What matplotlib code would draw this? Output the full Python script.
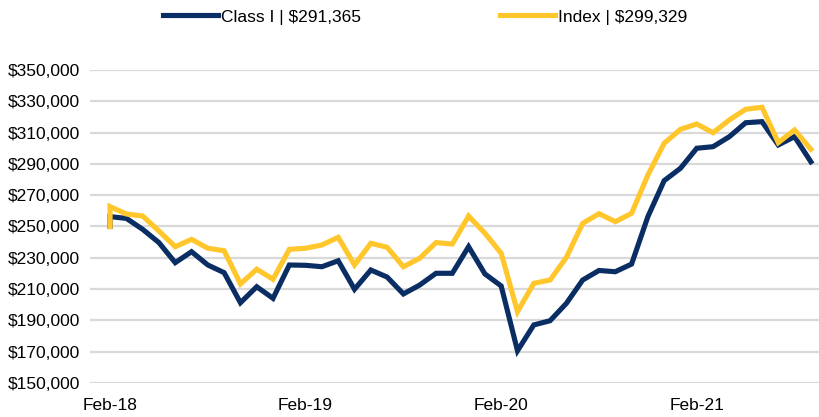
import matplotlib
matplotlib.use("Agg")
import matplotlib.pyplot as plt
import matplotlib.ticker as mticker
import numpy as np
import pandas as pd

plt.rcParams["font.family"] = ["Liberation Sans", "DejaVu Sans"]

# month-end values, Feb-18 .. Sep-21 (both series start from a $250,000 investment)
start_value = 250000
months = pd.date_range("2018-02-01", periods=44, freq="MS")
class_i = [256.3, 255.2, 248.2, 239.7, 226.9, 233.9, 225.4, 220.5, 201.3, 211.5,
           204.1, 225.4, 225.2, 224.3, 228.1, 209.9, 222.2, 217.7, 206.9, 212.6,
           220.1, 220.1, 237.1, 219.7, 212.0, 170.6, 187.1, 189.8, 200.9, 215.8,
           221.9, 221.1, 226.0, 256.3, 279.3, 287.2, 300.0, 301.0, 307.4, 316.3,
           317.0, 302.1, 307.4, 291.365]
index = [262.7, 258.0, 256.7, 247.1, 237.1, 241.8, 236.1, 234.5, 213.3, 222.7,
         216.3, 235.4, 236.1, 238.2, 243.1, 225.4, 239.3, 236.7, 224.3, 229.7,
         239.7, 238.8, 256.7, 245.7, 232.9, 195.6, 213.7, 215.8, 230.3, 252.0,
         258.2, 253.1, 258.4, 282.9, 303.2, 312.1, 315.5, 309.9, 318.1, 324.9,
         326.2, 303.6, 311.7, 299.329]
labels = ["Class I | $291,365", "Index | $299,329"]
tick_months = ["2018-02-01", "2019-02-01", "2020-02-01", "2021-02-01"]

NAVY = "#0A2D63"
GOLD = "#FFC72C"

x = np.arange(len(months))
x_full = np.concatenate([[0], x])
ci_full = np.concatenate([[start_value], np.array(class_i) * 1000])
ix_full = np.concatenate([[start_value], np.array(index) * 1000])

fig = plt.figure(figsize=(8.19, 4.17), dpi=100)
ax = fig.add_axes([90 / 819, 1 - 383 / 417, (819 - 90) / 819, (383 - 70) / 417])

# Index is drawn over Class I, as in the source chart
ax.plot(x_full, ci_full, color=NAVY, lw=3.7, solid_joinstyle="miter", label=labels[0], zorder=2)
ax.plot(x_full, ix_full, color=GOLD, lw=3.7, solid_joinstyle="miter", label=labels[1], zorder=3)

ax.set_ylim(150000, 350000)
ax.set_yticks(np.arange(150000, 350001, 20000))
ax.yaxis.set_major_formatter(mticker.FuncFormatter(lambda v, _: f"${v:,.0f}"))
ax.set_xlim(-1.23, 43.5)
tick_pos = [months.get_loc(pd.Timestamp(t)) for t in tick_months]
ax.set_xticks(tick_pos)
ax.set_xticklabels([pd.Timestamp(t).strftime("%b-%y") for t in tick_months])

ax.grid(axis="y", color="#D9D9D9", lw=1.6, zorder=0)
ax.set_axisbelow(True)
for s in ax.spines.values():
    s.set_visible(False)
ax.tick_params(axis="both", length=0, labelsize=12.5, colors="#000000")
ax.tick_params(axis="y", pad=7)
ax.tick_params(axis="x", pad=11)

handles, labs = ax.get_legend_handles_labels()
fig.legend(handles, labs, loc="center", bbox_to_anchor=(425 / 819, 1 - 17 / 417),
           ncol=2, frameon=False, fontsize=12.5, handlelength=3.2,
           handletextpad=0.15, columnspacing=8.0)

fig.savefig("out.png", dpi=100)
